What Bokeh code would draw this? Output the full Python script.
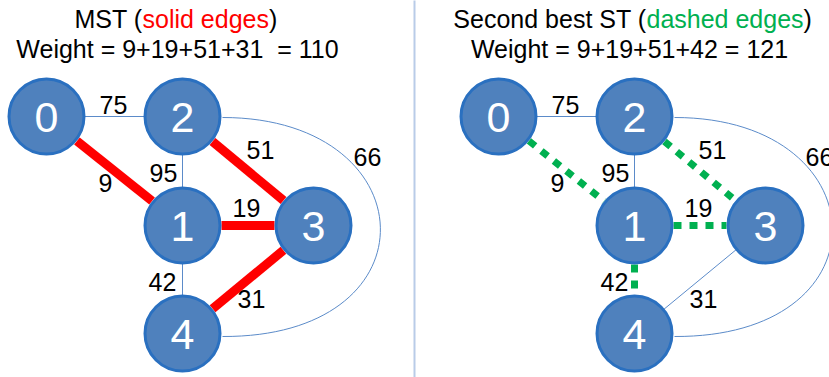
import math
from bokeh.plotting import figure
from bokeh.models import Range1d
from bokeh.core.properties import value
from bokeh.embed import file_html
from bokeh.resources import INLINE

# ---- data ----
nodes = [0, 1, 2, 3, 4]
edge_from = [0, 0, 1, 2, 1, 1, 3, 2]
edge_to = [2, 1, 2, 3, 3, 4, 4, 4]
edge_weight = [75, 9, 95, 51, 19, 42, 31, 66]
mst_edges = [(0, 1), (1, 3), (2, 3), (3, 4)]
second_edges = [(0, 1), (1, 3), (2, 3), (1, 4)]
panel_titles = ["MST (", "Second best ST ("]
panel_highlight = ["solid edges", "dashed edges"]

# ---- layout (pixel positions of the drawing) ----
node_x = {0: 46, 1: 182, 2: 182, 3: 313, 4: 182}
node_y = {0: 116, 1: 225, 2: 116, 3: 225, 4: 333}
label_pos = {(0, 2): (113, 104), (0, 1): (105, 182), (1, 2): (163, 172),
             (2, 3): (260, 149), (1, 3): (246, 207), (1, 4): (162, 281),
             (3, 4): (251, 298), (2, 4): (367, 156)}
panel_dx = [0, 452]
R = 39
FONT = value("Liberation Sans")
SHIFT = 0.36  # baseline correction (em)

p = figure(width=829, height=377, x_range=Range1d(0, 829), y_range=Range1d(377, 0),
           output_backend="svg", toolbar_location=None, min_border=0)
p.axis.visible = False
p.grid.visible = False
p.outline_line_color = None
p.background_fill_color = "white"
p.border_fill_color = "white"

# divider
p.segment(x0=[414], y0=[-5], x1=[414], y1=[385], line_color="#B9CCE8", line_width=2)

weights = {(a, b): w for a, b, w in zip(edge_from, edge_to, edge_weight)}

def trimmed(a, b, dx):
    x0, y0 = node_x[a] + dx, node_y[a]
    x1, y1 = node_x[b] + dx, node_y[b]
    L = math.hypot(x1 - x0, y1 - y0)
    ux, uy = (x1 - x0) / L, (y1 - y0) / L
    return x0 + ux * R, y0 + uy * R, x1 - ux * R, y1 - uy * R

def base(y, fs):
    return y - SHIFT * fs

for panel, (tree, dx) in enumerate(zip([mst_edges, second_edges], panel_dx)):
    tset = set(tree)
    tx0, ty0, tx1, ty1 = [], [], [], []
    for a, b in zip(edge_from, edge_to):
        if (a, b) in tset or (a, b) == (2, 4):
            continue
        tx0.append(node_x[a] + dx); ty0.append(node_y[a])
        tx1.append(node_x[b] + dx); ty1.append(node_y[b])
    p.segment(x0=tx0, y0=ty0, x1=tx1, y1=ty1, line_color="#5B8BC9", line_width=1)
    # curved edge 2-4
    p.bezier(x0=[node_x[2] + 40 + dx], y0=[node_y[2] + 1],
             x1=[node_x[4] + 40 + dx], y1=[node_y[4] + 3],
             cx0=[427 + dx], cy0=[node_y[2] + 1], cx1=[438 + dx], cy1=[node_y[4] + 4],
             line_color="#5B8BC9", line_width=1)
    sx0, sy0, sx1, sy1 = [], [], [], []
    for a, b in tree:
        x0, y0, x1, y1 = trimmed(a, b, dx)
        sx0.append(x0); sy0.append(y0); sx1.append(x1); sy1.append(y1)
    if panel == 0:
        p.segment(x0=sx0, y0=sy0, x1=sx1, y1=sy1, line_color="#FF0000", line_width=9)
    else:
        p.segment(x0=sx0, y0=sy0, x1=sx1, y1=sy1, line_color="#00B050", line_width=7,
                  line_dash="8 8")
    p.circle(x=[node_x[n] + dx for n in nodes], y=[node_y[n] for n in nodes], radius=R - 1.5,
             fill_color="#4F81BD", line_color="#2A70C0", line_width=3)
    p.text(x=[node_x[n] + dx for n in nodes], y=[base(node_y[n] + 16, 43) for n in nodes],
           text=[str(n) for n in nodes], text_color="white", text_font=FONT,
           text_font_size="43px", text_align="center", text_baseline="alphabetic")
    keys = list(label_pos.keys())
    p.text(x=[label_pos[k][0] + dx for k in keys], y=[base(label_pos[k][1] + 9, 25) for k in keys],
           text=[str(weights[k]) for k in keys], text_color="black", text_font=FONT,
           text_font_size="25px", text_align="center", text_baseline="alphabetic")

# titles
hl_colors = ["#FF0000", "#00B050"]
split_x = [142, 646]
hl_width = [126.5, 157]
for i in range(2):
    yb = base(27, 25)
    p.text(x=[split_x[i]], y=[yb], text=[panel_titles[i]], text_color="black", text_font=FONT,
           text_font_size="25px", text_align="right", text_baseline="alphabetic")
    p.text(x=[split_x[i]], y=[yb], text=[panel_highlight[i]], text_color=hl_colors[i],
           text_font=FONT, text_font_size="25px", text_align="left", text_baseline="alphabetic")
    p.text(x=[split_x[i] + hl_width[i]], y=[yb], text=[")"], text_color="black", text_font=FONT,
           text_font_size="25px", text_align="left", text_baseline="alphabetic")

trees = [mst_edges, second_edges]
sep = [" \u00a0= ", " = "]
centers = [177, 629]
for i in range(2):
    ws = [weights[e] for e in trees[i]]
    s = "Weight = " + "+".join(str(w) for w in ws) + sep[i] + str(sum(ws))
    p.text(x=[centers[i]], y=[base(57, 25)], text=[s], text_color="black", text_font=FONT,
           text_font_size="25px", text_align="center", text_baseline="alphabetic")

open("out.html", "w").write(file_html(p, INLINE))
